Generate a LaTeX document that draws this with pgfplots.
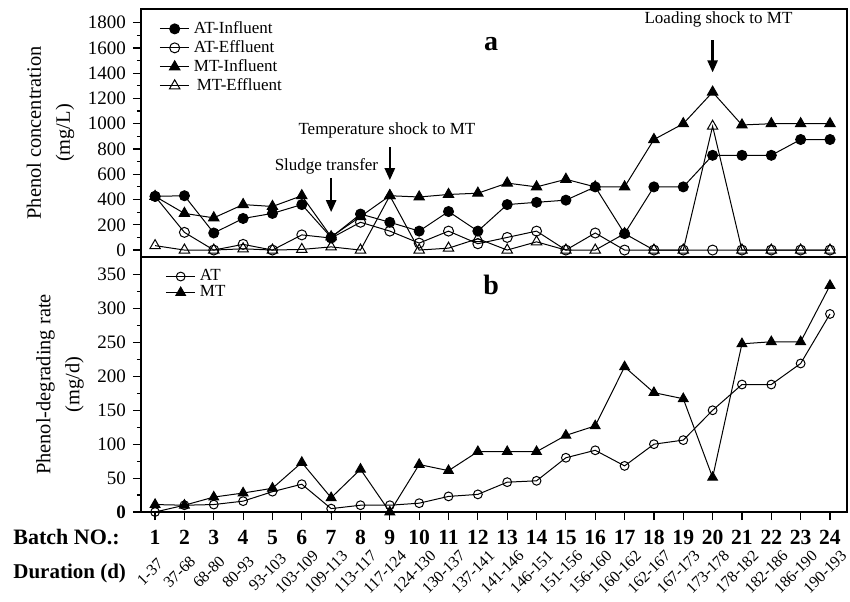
\documentclass[border=0pt]{standalone}
\usepackage{pgfplots}
\pgfplotsset{compat=1.18}
\usepackage{fontspec}
\setmainfont{Liberation Serif}
\usetikzlibrary{arrows.meta}
\newcommand{\fs}[1]{\fontsize{#1}{#1}\selectfont}
\tikzset{dur/.style={font=\fs{8}, xshift=-2.5pt, yshift=-30pt, rotate=45, anchor=center}}
\begin{document}
\begin{tikzpicture}
\pgfplotsset{
  common/.style={
    scale only axis, width=353pt,
    xmin=0.52, xmax=24.58,
    /pgf/number format/assume math mode=true,
    tick align=outside, ytick pos=left,
    major tick length=4pt, minor tick length=2pt,
    tick style={line width=0.6pt, black},
    axis line style={line width=0.8pt},
    ticklabel style={font=\fs{9.5}},
    yticklabel style={/pgf/number format/1000 sep={}},
    label style={font=\fontsize{10.2}{14.5}\selectfont, align=center},
    every axis plot/.append style={line width=0.5pt, black},
    legend style={draw=none, fill=none, font=\fs{8.5}, cells={anchor=west}},
    legend image code/.code={\draw[mark repeat=2,mark phase=2] plot coordinates {(0cm,0cm) (0.26cm,0cm) (0.52cm,0cm)};},
  }
}
\begin{axis}[common, height=124pt,
  ymin=-55, ymax=1908, xtick=\empty,
  ytick={0,200,...,1800}, minor y tick num=1,
  ylabel={Phenol concentration\\(mg/L)},
  legend style={at={(rel axis cs:0,1)}, anchor=north west, xshift=6pt, yshift=-2pt, row sep=-2pt},
]
\addplot[mark=*, mark size=2.5pt] coordinates {(1,425)(2,430)(3,135)(4,250)(5,290)(6,360)(7,100)(8,285)(9,220)(10,150)(11,305)(12,150)(13,360)(14,378)(15,395)(16,500)(17,130)(18,500)(19,500)(20,750)(21,750)(22,750)(23,875)(24,875)};
\addlegendentry{AT-Influent}
\addplot[mark=o, mark size=2.5pt, mark options={fill=white}] coordinates {(1,425)(2,140)(3,0)(4,45)(5,0)(6,120)(7,95)(8,220)(9,150)(10,55)(11,150)(12,50)(13,100)(14,150)(15,0)(16,135)(17,0)(18,0)(19,0)(20,0)(21,0)(22,0)(23,0)(24,0)};
\addlegendentry{AT-Effluent}
\addplot[mark=triangle*, mark size=3pt] coordinates {(1,425)(2,290)(3,255)(4,360)(5,345)(6,430)(7,105)(8,265)(9,430)(10,420)(11,440)(12,450)(13,530)(14,500)(15,560)(16,500)(17,500)(18,875)(19,1000)(20,1250)(21,990)(22,1000)(23,1000)(24,1000)};
\addlegendentry{MT-Influent}
\addplot[mark=triangle, mark size=3pt, mark options={fill=white}] coordinates {(1,35)(2,0)(3,0)(4,10)(5,0)(6,5)(7,25)(8,0)(9,430)(10,0)(11,15)(12,90)(13,0)(14,65)(15,0)(16,0)(17,130)(18,0)(19,0)(20,980)(21,0)(22,0)(23,0)(24,0)};
\addlegendentry{\,MT-Effluent}
\draw[line width=1.2pt, -{Triangle[length=6pt,width=5pt]}] (axis cs:7,569) -- (axis cs:7,300);
\draw[line width=1.2pt, -{Triangle[length=6pt,width=5pt]}] (axis cs:9,814) -- (axis cs:9,553);
\draw[line width=1.2pt, -{Triangle[length=6pt,width=5pt]}] (axis cs:20,1659) -- (axis cs:20,1406);
\node[font=\fs{8.5}] at (axis cs:6.84,664) {Sludge transfer};
\node[font=\fs{8.5}] at (axis cs:8.9,948) {Temperature shock to MT};
\node[font=\fs{8.5}] at (axis cs:20.2,1825) {Loading shock to MT};
\node[font=\bfseries\fs{14}] at (axis cs:12.45,1630) {a};
\coordinate (TL) at (rel axis cs:0,1);
\coordinate (BL) at (rel axis cs:0,0);
\end{axis}
\begin{axis}[common, height=127.5pt, at={(BL)}, anchor=north west,
  ymin=0, ymax=376, clip=false,
  xtick={1,...,24}, xtick pos=bottom,
  xticklabels={1,2,3,4,5,6,7,8,9,10,11,12,13,14,15,16,17,18,19,20,21,22,23,24},
  xticklabel style={font=\bfseries\fs{10.8}, yshift=-1.5pt},
  ytick={0,50,...,350}, minor y tick num=1,
  yticklabels={\textbf{0},50,100,150,200,250,300,350},
  ylabel={Phenol-degrading rate\\(mg/d)},
  legend style={at={(rel axis cs:0,1)}, anchor=north west, xshift=9pt, yshift=-2pt, row sep=-3pt},
]
\addplot[mark=o, mark size=2.2pt, mark options={fill=white}] coordinates {(1,0)(2,10)(3,11)(4,16)(5,30)(6,41)(7,5)(8,10)(9,10)(10,13)(11,23)(12,26)(13,44)(14,46)(15,80)(16,91)(17,68)(18,100)(19,106)(20,150)(21,188)(22,188)(23,219)(24,292)};
\addlegendentry{AT}
\addplot[mark=triangle*, mark size=2.8pt] coordinates {(1,11)(2,10)(3,22)(4,28)(5,35)(6,73)(7,21)(8,63)(9,0)(10,70)(11,61)(12,89)(13,89)(14,89)(15,113)(16,127)(17,214)(18,176)(19,167)(20,51)(21,248)(22,251)(23,251)(24,334)};
\addlegendentry{MT}
\node[font=\bfseries\fs{14}] at (axis cs:12.45,335) {b};
\foreach \d [count=\i] in {1-37,37-68,68-80,80-93,93-103,103-109,109-113,113-117,117-124,124-130,130-137,137-141,141-146,146-151,151-156,156-160,160-162,162-167,167-173,173-178,178-182,182-186,186-190,190-193}{
  \edef\temp{\noexpand\node[dur] at (axis cs:\i,0) {\d};}
  \temp
}
\coordinate (BL2) at (rel axis cs:0,0);
\end{axis}
\node[font=\bfseries\fs{11}, anchor=west, inner sep=0pt] at ([xshift=-64pt,yshift=-12.5pt]BL2) {Batch NO.:};
\node[font=\bfseries\fs{10.5}, anchor=west, inner sep=0pt] at ([xshift=-64pt,yshift=-30.5pt]BL2) {Duration (d)};
\pgfresetboundingbox
\path[use as bounding box] ([xshift=-70.5pt,yshift=4.5pt]TL) rectangle ++(425pt,-300.5pt);
\end{tikzpicture}
\end{document}
